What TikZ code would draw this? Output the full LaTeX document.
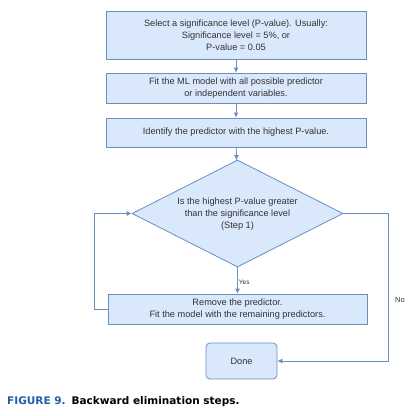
\documentclass[tikz,border=0pt]{standalone}
\usepackage{fontspec}
\setmainfont{Liberation Sans}
\newfontfamily\capfont{DejaVu Sans}
\usetikzlibrary{shapes.geometric,arrows.meta}
\definecolor{boxfill}{HTML}{DAE8FC}
\definecolor{boxline}{HTML}{6C8EBF}
\definecolor{capblue}{HTML}{1F5FA8}
\tikzset{
  box/.style={draw=boxline,fill=boxfill,line width=0.8pt,minimum width=260pt,
    align=center,inner sep=0pt,text=black!80,font=\fontsize{9.2}{12}\selectfont},
  decision/.style={box,shape=diamond,minimum width=211pt,minimum height=107pt},
  flow/.style={draw=boxline,line width=0.8pt,-{Latex[length=5pt,width=5pt]}},
  lbl/.style={font=\fontsize{6.5}{8}\selectfont,text=black!80}
}
\begin{document}
\begin{tikzpicture}[x=1pt,y=-1pt]
	\useasboundingbox[fill=white] (0,0) rectangle (416,416);

	% Steps
	\node[box,minimum height=48pt] (sel) at (236,35) {Select a significance level (P-value). Usually:\\Significance level = 5\%, or\\P-value = 0.05};
	\node[box,minimum height=30pt] (fit) at (236,88) {Fit the ML model with all possible predictor\\or independent variables.};
	\node[box,minimum height=29pt] (ident) at (236,132.5) {Identify the predictor with the highest P-value.};
	\node[decision] (dec) at (237.5,213.5) {\smash{\makebox[0pt]{\raisebox{-3pt}{\begin{tabular}{@{}c@{}}Is the highest P-value greater\\than the significance level\\(Step 1)\end{tabular}}}}};
	\node[box,minimum width=259pt,minimum height=30pt] (remove) at (237.5,309) {Remove the predictor.\\Fit the model with the remaining predictors.};
	\node[box,minimum width=71pt,minimum height=36pt,rounded corners=4pt] (done) at (241.5,361) {Done};

	% Connectors
	\draw[flow] (sel) -- (fit);
	\draw[flow] (fit) -- (ident);
	\draw[flow] (ident) -- (dec);
	\draw[flow] (dec) -- node[lbl,right,inner sep=1pt,pos=0.55] {Yes} (remove);
	\coordinate (back) at (94,213.5);
	\draw[flow] (remove.west) -| (back) -- (dec.west);
	\coordinate (right) at (388,213.5);
	\draw[flow] (dec.east) -- (right) |- (done.east);
	\node[lbl,font=\fontsize{7.5}{9}\selectfont] (no) at (400,300) {No};

	% Caption
	\node[anchor=west,inner sep=0pt,font=\capfont\bfseries\fontsize{10.5}{13}\selectfont] (cap) at (7,402)
		{\textcolor{capblue}{FIGURE 9.}\hspace{6pt}Backward elimination steps.};
\end{tikzpicture}
\end{document}
